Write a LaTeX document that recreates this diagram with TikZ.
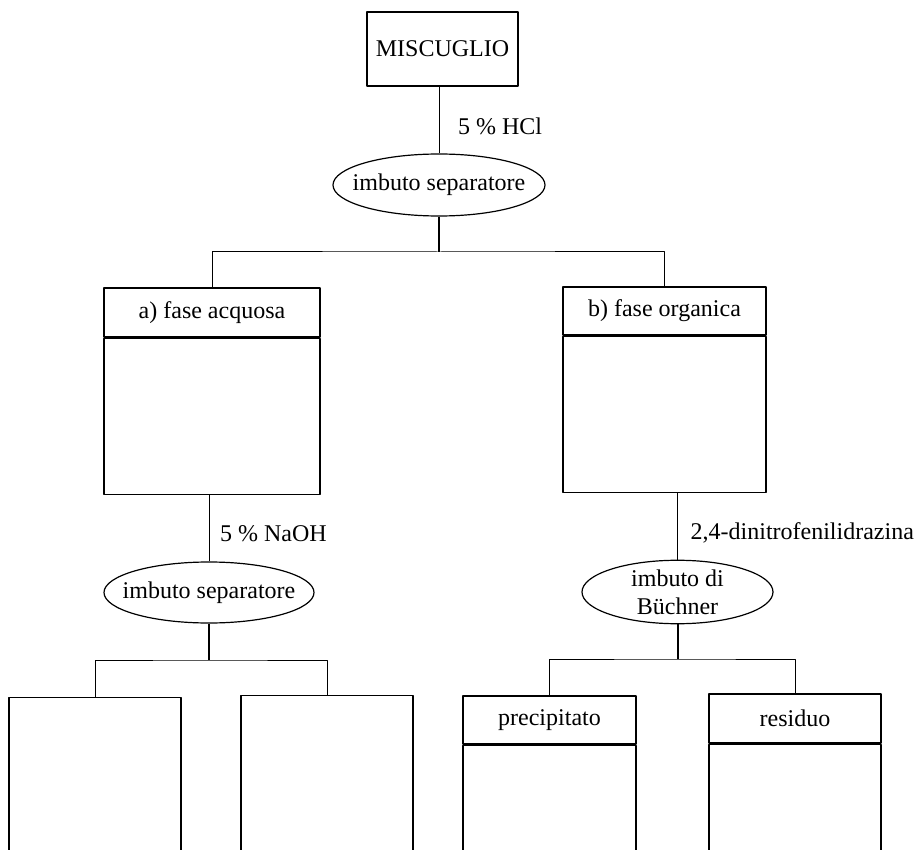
\documentclass[tikz,border=0pt]{standalone}
\usepackage{fontspec}
\setmainfont{Liberation Serif}
\usetikzlibrary{shapes.geometric}
\tikzset{
  box/.style={draw, line width=0.7pt, inner sep=0pt},
  funnel/.style={draw, ellipse, line width=0.6pt, inner xsep=-6.5pt, inner ysep=0pt, align=center},
  link/.style={line width=0.5pt},
  stem/.style={line width=1pt}
}
\begin{document}
\begin{tikzpicture}[x=0.5pt, y=-0.5pt, font=\fontsize{12}{14}\selectfont, line join=round]
	\useasboundingbox (0,0) rectangle (916,850);
	\clip (0,0) rectangle (916,850);
	% start and first separation
	\node[box, minimum width=75.5pt, minimum height=37pt] (mix) at (442.5,49) {MISCUGLIO};
	\node[funnel, minimum width=106pt, minimum height=31pt] (sepA) at (439,185) {imbuto separatore};
	\node[box, minimum width=108pt, minimum height=24.5pt] (acq) at (212,312.5) {a) fase acquosa};
	\node[box, minimum width=108pt, minimum height=78pt, anchor=north] (acqbody) at (acq.south) {};
	\node[box, minimum width=101.5pt, minimum height=24pt] (org) at (664.5,311) {b) fase organica};
	\node[box, minimum width=101.5pt, minimum height=78pt, anchor=north] (orgbody) at (org.south) {};
	% second step
	\node[funnel, minimum width=105pt, minimum height=30.5pt] (sepB) at (209,592.5) {imbuto separatore};
	\node[funnel, minimum width=95.5pt, minimum height=31pt] (buch) at (677.5,592) {imbuto di\\Büchner};
	\node[box, minimum width=86pt, minimum height=90pt, anchor=north] (outA) at (95,697) {};
	\node[box, minimum width=86pt, minimum height=90pt, anchor=north] (outB) at (327,695) {};
	\node[box, minimum width=86.5pt, minimum height=24pt] (prec) at (549.5,720) {precipitato};
	\node[box, minimum width=86.5pt, minimum height=70pt, anchor=north] (precbody) at (prec.south) {};
	\node[box, minimum width=86pt, minimum height=24.5pt] (res) at (795,718.5) {residuo};
	\node[box, minimum width=86pt, minimum height=70pt, anchor=north] (resbody) at (res.south) {};
	% connectors
	\coordinate (jA) at (439,252);
	\coordinate (jB) at (209,660);
	\coordinate (jC) at (677.5,659);
	\draw[link] (mix.south -| sepA) -- node[pos=0.6, right=6pt] {5 \% HCl} (sepA);
	\draw[stem] (sepA) -- (jA);
	\draw[link] (acq.north) |- (jA) -| (org.north);
	\draw[link] (acqbody.south -| sepB) -- node[pos=0.58, right=2pt] {5 \% NaOH} (sepB);
	\draw[link] (orgbody.south -| buch) -- node[pos=0.6, right=3pt] {2,4-dinitrofenilidrazina} (buch);
	\draw[stem] (sepB) -- (jB);
	\draw[link] (outA.north) |- (jB) -| (outB.north);
	\draw[stem] (buch) -- (jC);
	\draw[link] (prec.north) |- (jC) -| (res.north);
\end{tikzpicture}
\end{document}
